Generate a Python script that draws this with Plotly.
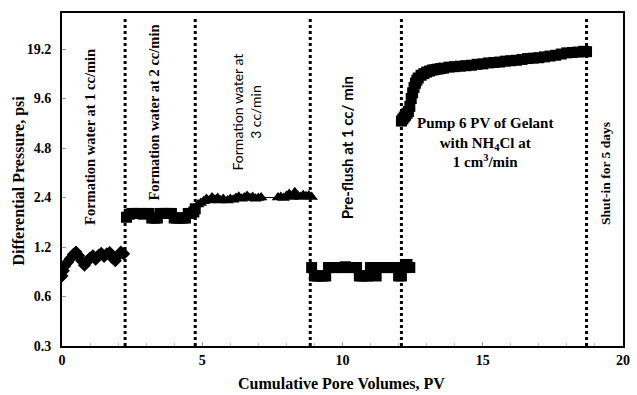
import plotly.graph_objects as go
import math

# ---- data ----
seg1_x = [0.0, 0.05, 0.1, 0.2, 0.3, 0.4, 0.5, 0.6, 0.7, 0.8, 0.9, 1.0, 1.1, 1.2, 1.3, 1.4, 1.5, 1.6, 1.7, 1.8, 1.9, 2.0, 2.1, 2.2]
seg1_y = [0.80, 0.86, 0.92, 0.97, 1.02, 1.08, 1.12, 1.06, 0.99, 0.93, 0.98, 1.03, 1.06, 1.01, 1.07, 1.10, 1.05, 1.09, 1.11, 1.03, 0.99, 1.06, 1.12, 1.09]

seg2_x = [2.3, 2.4, 2.5, 2.6, 2.7, 2.8, 2.9, 3.0, 3.1, 3.2, 3.3, 3.4, 3.5, 3.6, 3.7, 3.8, 3.9, 4.0, 4.1, 4.2, 4.3, 4.4, 4.5, 4.6, 4.7, 4.75]
seg2_y = [1.82, 1.90, 1.92, 1.92, 1.92, 1.92, 1.90, 1.92, 1.92, 1.80, 1.80, 1.80, 1.92, 1.92, 1.92, 1.92, 1.92, 1.80, 1.80, 1.80, 1.80, 1.80, 1.92, 1.92, 1.96, 2.05]

seg3_x = [4.85, 4.95, 5.05, 5.15, 5.25, 5.35, 5.45, 5.55, 5.65, 5.75, 5.9, 6.0, 6.1, 6.2, 6.3, 6.4, 6.5, 6.6, 6.7, 6.8, 6.9, 7.0, 7.1,
          7.7, 7.8, 7.9, 8.0, 8.1, 8.2, 8.3, 8.4, 8.5, 8.6, 8.7, 8.8, 8.9]
seg3_y = [2.18, 2.22, 2.28, 2.35, 2.30, 2.40, 2.33, 2.38, 2.30, 2.35, 2.30, 2.35, 2.33, 2.38, 2.43, 2.36, 2.40, 2.45, 2.38, 2.42, 2.36, 2.38, 2.40,
          2.40, 2.42, 2.38, 2.45, 2.52, 2.42, 2.58, 2.46, 2.42, 2.48, 2.44, 2.47, 2.42]

seg4_x = [8.9, 9.0, 9.1, 9.2, 9.3, 9.4, 9.5, 9.6, 9.7, 9.8, 9.9, 10.0, 10.1, 10.2, 10.3, 10.4, 10.5, 10.6, 10.7, 10.8, 10.9, 11.0,
          11.1, 11.2, 11.3, 11.4, 11.5, 11.6, 11.7, 11.8, 11.9, 12.0, 12.1, 12.2, 12.3, 12.4]
seg4_y = [0.90, 0.80, 0.80, 0.80, 0.80, 0.80, 0.90, 0.90, 0.90, 0.90, 0.90, 0.90, 0.91, 0.90, 0.90, 0.90, 0.90, 0.80, 0.80, 0.80, 0.80, 0.90,
          0.90, 0.80, 0.90, 0.90, 0.90, 0.90, 0.90, 0.90, 0.90, 0.80, 0.80, 0.90, 0.94, 0.90]

seg5_x = [12.10, 12.15, 12.20, 12.25, 12.30, 12.35, 12.40, 12.45, 12.50, 12.55, 12.60, 12.65, 12.70, 12.80, 12.90, 13.00, 13.10, 13.20,
          13.30, 13.40, 13.50, 13.60, 13.80, 14.00, 14.20, 14.40, 14.60, 14.80, 15.00, 15.20, 15.40, 15.60, 15.80, 16.00, 16.20,
          16.40, 16.60, 16.80, 17.00, 17.20, 17.40, 17.60, 17.80, 18.00, 18.20, 18.40, 18.60, 18.70]
seg5_y = [7.0, 7.2, 7.4, 7.6, 7.8, 8.0, 8.6, 9.6, 10.4, 11.2, 11.9, 12.4, 12.8, 13.3, 13.6, 13.9, 14.1, 14.3,
          14.4, 14.5, 14.6, 14.7, 14.9, 15.0, 15.1, 15.2, 15.3, 15.5, 15.6, 15.8, 15.9, 16.0, 16.2, 16.3, 16.4,
          16.6, 16.8, 16.9, 17.0, 17.2, 17.4, 17.6, 17.9, 18.2, 18.3, 18.4, 18.6, 18.5]

stage_bounds = [2.25, 4.75, 8.85, 12.1, 18.7]

y_ticks = [0.3, 0.6, 1.2, 2.4, 4.8, 9.6, 19.2]
y_tick_text = ["0.3", "0.6", "1.2", "2.4", "4.8", "9.6", "19.2"]
x_ticks = [0, 5, 10, 15, 20]

SERIF = "Liberation Serif, Times New Roman, serif"
SANS = "Lato, Noto Sans, sans-serif"

fig = go.Figure()

def add_seg(xs, ys, symbol, size):
    fig.add_trace(go.Scatter(
        x=xs, y=ys, mode="lines+markers",
        line=dict(color="black", width=1.2),
        marker=dict(symbol=symbol, size=size, color="black", line=dict(width=0)),
        showlegend=False, hoverinfo="skip"))

add_seg(seg1_x, seg1_y, "diamond", 10)
add_seg(seg2_x, seg2_y, "square", 11)
add_seg(seg3_x, seg3_y, "triangle-up", 11)
add_seg(seg4_x, seg4_y, "square", 11)
add_seg(seg5_x, seg5_y, "square", 11)

for xb in stage_bounds:
    fig.add_shape(type="line", x0=xb, x1=xb, xref="x", y0=0, y1=0.985, yref="paper",
                  line=dict(color="black", width=3, dash="dot"))

serif_b = dict(family=SERIF, size=14.5, color="black", weight="bold")

anns = [
    dict(x=1.0, y=0.628, text="Formation water at 1 cc/min", textangle=-90, font=serif_b),
    dict(x=3.27, y=0.70, text="Formation water at 2 cc/min", textangle=-90, font=serif_b),
    dict(x=6.58, y=0.703, text="Formation water at<br>3 cc/min", textangle=-90,
         font=dict(family=SANS, size=14, color="black")),
    dict(x=10.14, y=0.595, text="Pre-flush at 1 cc/ min", textangle=-90,
         font=dict(family=SANS, size=15, color="black", weight="bold")),
    dict(x=15.07, y=0.61, text="Pump 6 PV of Gelant<br>with NH<sub>4</sub>Cl at<br>1 cm<sup>3</sup>/min",
         font=dict(family=SERIF, size=15, color="black", weight="bold")),
    dict(x=19.4, y=0.517, text="Shut-in for 5 days", textangle=-90,
         font=dict(family=SERIF, size=13.5, color="black", weight="bold")),
]
for a in anns:
    fig.add_annotation(xref="x", yref="paper", showarrow=False, xanchor="center", yanchor="middle", **a)

fig.add_annotation(xref="paper", yref="paper", x=(18 - 62) / 568, y=(346 - 181) / 333,
                   text="Differential Pressure, psi", textangle=-90, showarrow=False,
                   xanchor="center", yanchor="middle",
                   font=dict(family=SERIF, size=16, color="black", weight="bold"))
fig.add_annotation(xref="paper", yref="paper", x=(345 - 62) / 568, y=(346 - 383) / 333,
                   text="Cumulative Pore Volumes, PV", showarrow=False,
                   xanchor="center", yanchor="middle",
                   font=dict(family=SERIF, size=16, color="black", weight="bold"))

fig.update_xaxes(range=[0, 20], tickvals=x_ticks, ticks="inside", ticklen=4, tickcolor="#999",
                 showline=True, linewidth=2, linecolor="black", mirror=True, showgrid=False, zeroline=False,
                 tickfont=dict(family=SERIF, size=14, color="black", weight="bold"),
                 minor=dict(dtick=1, ticks="inside", ticklen=3, tickcolor="#bbb"))
fig.update_yaxes(type="log", range=[math.log10(0.3), math.log10(31.8)], tickvals=y_ticks, ticktext=y_tick_text,
                 ticks="inside", ticklen=4, tickcolor="#999", ticklabelstandoff=6,
                 showline=True, linewidth=2, linecolor="black", mirror=True, showgrid=False, zeroline=False,
                 tickfont=dict(family=SERIF, size=14, color="black", weight="bold"))

fig.update_layout(width=637, height=395, margin=dict(l=62, r=7, t=13, b=49),
                  paper_bgcolor="white", plot_bgcolor="white")

fig.write_html("out.html")
